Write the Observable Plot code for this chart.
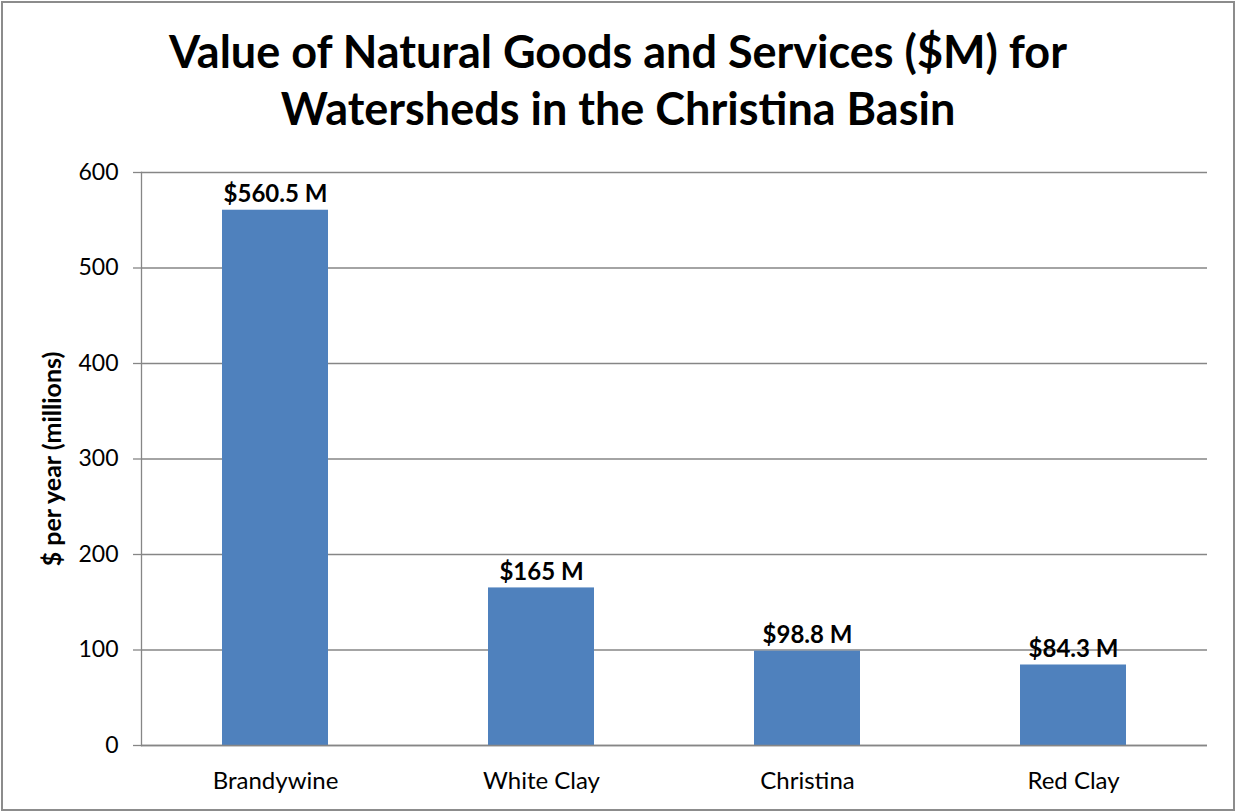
<!DOCTYPE html>
<html>
<head>
<meta charset="utf-8">
<script src="https://cdn.jsdelivr.net/npm/d3@7"></script>
<script src="https://cdn.jsdelivr.net/npm/@observablehq/plot@0.6"></script>
<style>
  html, body { margin: 0; padding: 0; background: #fff; }
  #frame {
    box-sizing: border-box; width: 1234px; height: 810px; margin: 1px;
    border: 2px solid #8c8c8c; background: #fff; overflow: hidden;
    font-family: Lato, "Open Sans", sans-serif; color: #000;
  }
  #title {
    height: 147px; box-sizing: border-box; padding-top: 20px;
    text-align: center; font-weight: bold; font-size: 45px; line-height: 57px;
  }
  #chart svg { display: block; }
  g[aria-label="y-axis label"] text { font-weight: bold; font-size: 25px; }
  g[aria-label="y-axis tick label"] text { font-size: 23px; }
  g[aria-label="x-axis tick label"] text { font-size: 24px; }
</style>
</head>
<body>
<div id="frame">
  <div id="title">Value of Natural Goods and Services ($M) for<br>Watersheds in the Christina Basin</div>
  <div id="chart"></div>
</div>
<script>
const categories = ["Brandywine", "White Clay", "Christina", "Red Clay"];
const values = [560.5, 165, 98.8, 84.3];
const valueLabels = ["$560.5 M", "$165 M", "$98.8 M", "$84.3 M"];
const yTicks = [0, 100, 200, 300, 400, 500, 600];

const data = categories.map((c, i) => ({category: c, value: values[i], label: valueLabels[i]}));

const chart = Plot.plot({
  width: 1230,
  height: 655,
  marginLeft: 138,
  marginRight: 26,
  marginTop: 22,
  marginBottom: 60,
  style: {fontFamily: "Lato, 'Open Sans', sans-serif", fontSize: "20px", color: "#000", background: "#fff"},
  x: {domain: categories, padding: 0, label: null},
  y: {domain: [0, 600], ticks: yTicks, label: null},
  marks: [
    Plot.gridY(yTicks, {stroke: "#868686", strokeOpacity: 1, strokeWidth: 1.3}),
    Plot.barY(data, {x: "category", y: "value", fill: "#4f81bd", insetLeft: 80, insetRight: 80}),
    Plot.ruleY([0], {stroke: "#868686", strokeWidth: 1.3}),
    Plot.frame({anchor: "left", stroke: "#868686", strokeWidth: 1.3}),
    Plot.axisY(yTicks, {tickSize: 8, tickPadding: 15, stroke: "#868686", strokeWidth: 1.3, label: "$ per year (millions)", labelAnchor: "center", labelOffset: 98, labelArrow: "none"}),
    Plot.axisX({tickSize: 0, tickPadding: 26, label: null}),
    Plot.text(data, {x: "category", y: "value", text: "label", lineAnchor: "bottom", dy: -8, fontWeight: "bold", fontSize: 24, fill: "#000"})
  ]
});
document.getElementById("chart").appendChild(chart);
</script>
</body>
</html>
